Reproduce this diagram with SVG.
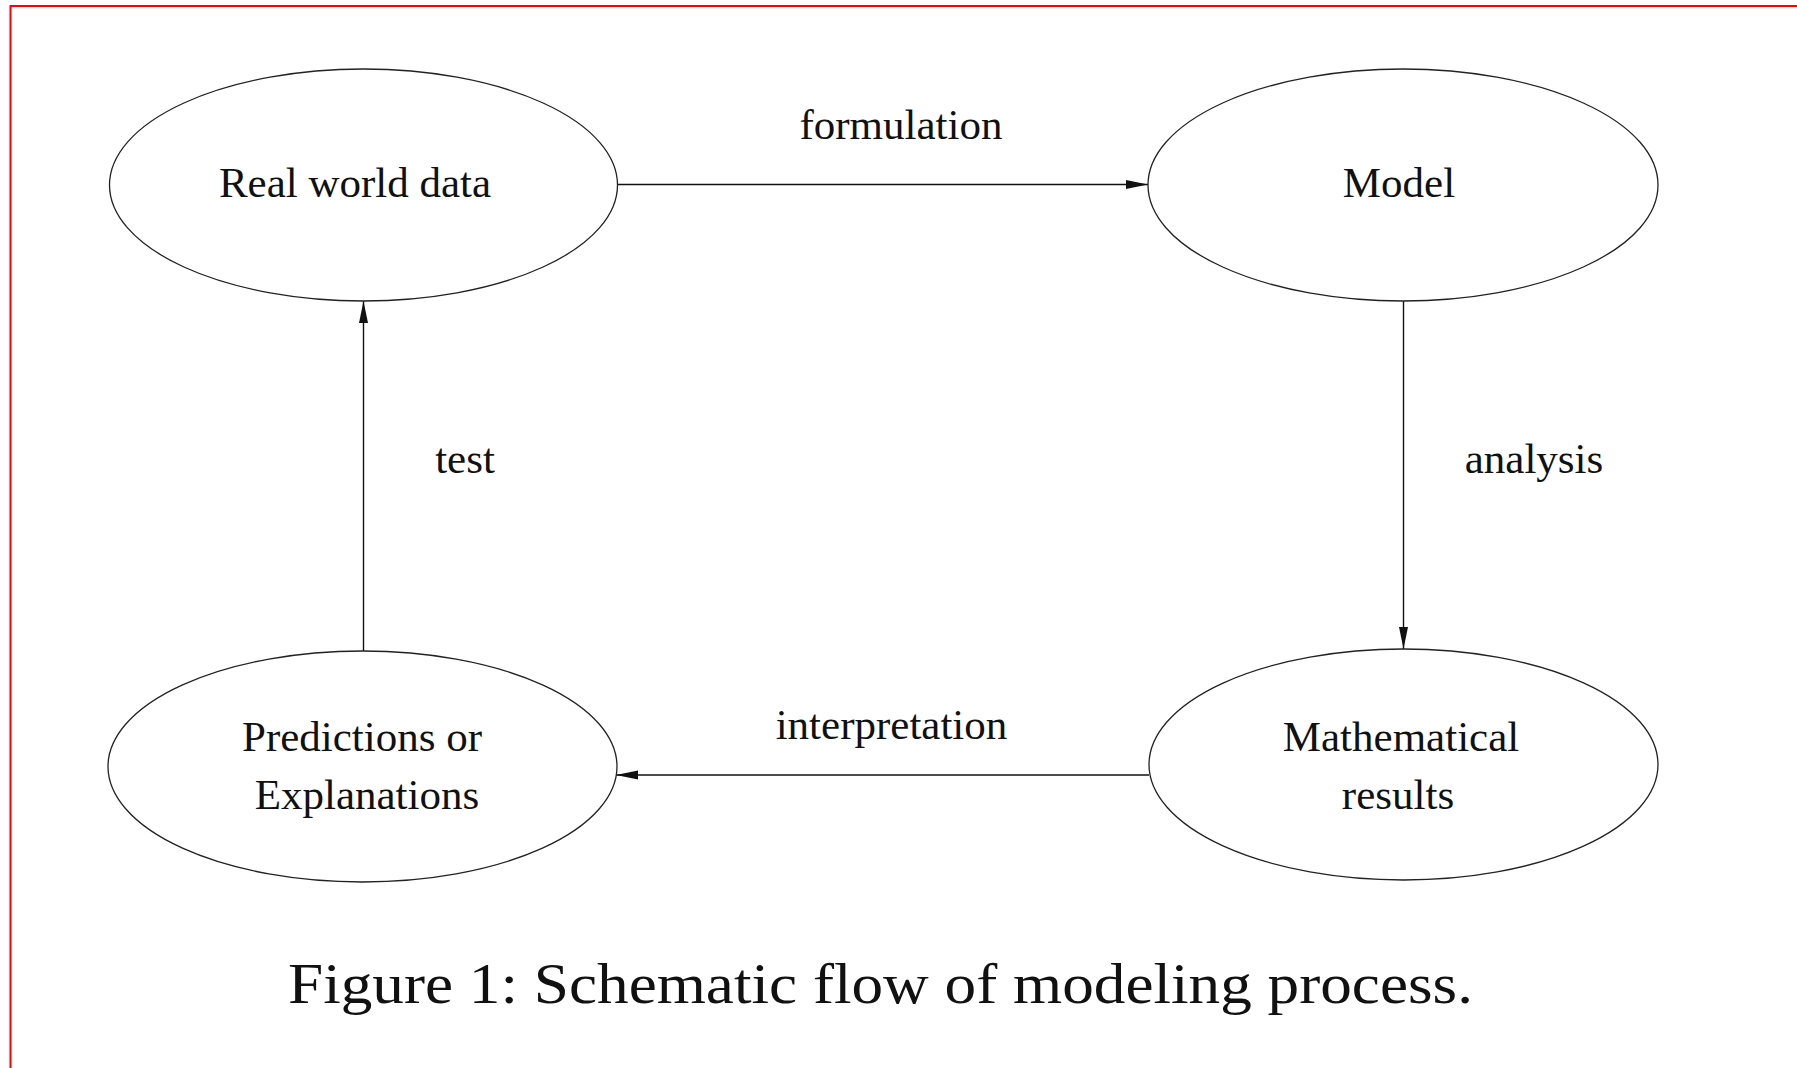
<svg xmlns="http://www.w3.org/2000/svg" width="1797" height="1068" viewBox="0 0 1797 1068">
  <style>
    .node ellipse { fill: #ffffff; stroke: #222222; stroke-width: 1.3; }
    .lbl { font-family: "Liberation Serif", "Times New Roman", serif; font-size: 43px; fill: #111111; text-anchor: middle; }
    .edge { stroke: #111111; stroke-width: 1.4; fill: none; marker-end: url(#arrow); }
    .cap { font-family: "Liberation Serif", "Times New Roman", serif; font-size: 58px; fill: #111111; }
  </style>
  <defs>
    <marker id="arrow" markerUnits="userSpaceOnUse" markerWidth="24" markerHeight="12" refX="22" refY="5" orient="auto">
      <path d="M0,0.5 L22,5 L0,9.5 Z" fill="#111111"/>
    </marker>
  </defs>
  <rect width="1797" height="1068" fill="#ffffff"/>
  <rect x="10.5" y="6" width="1800" height="1100" fill="none" stroke="#ff0000" stroke-width="2"/>

  <g id="connectors">
    <g id="e-formulation">
      <line class="edge" x1="617.5" y1="184.5" x2="1148" y2="184.5"/>
      <text class="lbl" x="901" y="139">formulation</text>
    </g>
    <g id="e-analysis">
      <line class="edge" x1="1403.5" y1="301" x2="1403.5" y2="649"/>
      <text class="lbl" x="1534" y="473">analysis</text>
    </g>
    <g id="e-interpretation">
      <line class="edge" x1="1149" y1="775" x2="616" y2="775"/>
      <text class="lbl" x="891.5" y="739">interpretation</text>
    </g>
    <g id="e-test">
      <line class="edge" x1="363.5" y1="651" x2="363.5" y2="301"/>
      <text class="lbl" x="465" y="473">test</text>
    </g>
  </g>

  <g id="real-world-data" class="node">
    <ellipse cx="363.5" cy="185" rx="254" ry="116"/>
    <text class="lbl" x="355" y="197">Real world data</text>
  </g>
  <g id="model" class="node">
    <ellipse cx="1403" cy="185" rx="255" ry="116"/>
    <text class="lbl" x="1399" y="197">Model</text>
  </g>
  <g id="mathematical-results" class="node">
    <ellipse cx="1403.5" cy="764.5" rx="254.5" ry="115.5"/>
    <text class="lbl" x="1401" y="751">Mathematical</text>
    <text class="lbl" x="1398" y="809">results</text>
  </g>
  <g id="predictions" class="node">
    <ellipse cx="362.5" cy="766.5" rx="254.5" ry="115.5"/>
    <text class="lbl" x="362" y="751">Predictions or</text>
    <text class="lbl" x="367" y="809">Explanations</text>
  </g>

  <text class="cap" x="288" y="1003" textLength="1185" lengthAdjust="spacingAndGlyphs">Figure 1: Schematic flow of modeling process.</text>
</svg>
